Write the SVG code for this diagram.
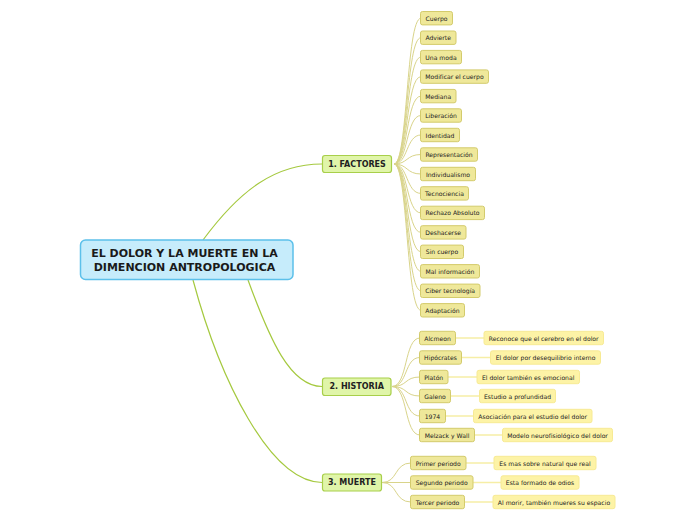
<svg xmlns="http://www.w3.org/2000/svg" width="696" height="520" viewBox="0 0 696 520">
<style>
text{font-family:"DejaVu Sans",Verdana,sans-serif;fill:#222;text-anchor:middle;dominant-baseline:central}
.root rect{fill:#c6ecfb;stroke:#5cc0ea;stroke-width:1.5}
.root text{font-size:11px;font-weight:bold;fill:#1a1a1a}
.br rect{fill:#e0f5a9;stroke:#a8cf4a;stroke-width:1.2}
.br text{font-size:8px;font-weight:bold}
.ch rect{fill:#efe89a;stroke:#d3cb6c;stroke-width:1}
.ch text{font-size:6.1px}
.gc rect{fill:#fdf3a6;stroke:#f7ea94;stroke-width:1}
.gc text{font-size:6.1px}
.main path{fill:none;stroke:#a5c93f;stroke-width:1.2}
.sub path{fill:none;stroke:#d9d48a;stroke-width:1}
.leaf path{fill:none;stroke:#f6eea6;stroke-width:1.5}
</style>
<g id="connectors">
<g class="main">
<path d="M203,240 C240,190 275,164 322,164"/>
<path d="M248,280 C270,340 290,386 322,386.5"/>
<path d="M193,280 C220,380 270,482 322,482.5"/>
</g>
<g class="sub">
<path d="M394,164 C408,164 406,18.2 421,18.2"/>
<path d="M394,164 C408,164 406,37.7 421,37.7"/>
<path d="M394,164 C408,164 406,57.1 421,57.1"/>
<path d="M394,164 C408,164 406,76.6 421,76.6"/>
<path d="M394,164 C408,164 406,96.1 421,96.1"/>
<path d="M394,164 C408,164 406,115.5 421,115.5"/>
<path d="M394,164 C408,164 406,135 421,135"/>
<path d="M394,164 C408,164 406,154.5 421,154.5"/>
<path d="M394,164 C408,164 406,174 421,174"/>
<path d="M394,164 C408,164 406,193.4 421,193.4"/>
<path d="M394,164 C408,164 406,212.9 421,212.9"/>
<path d="M394,164 C408,164 406,232.4 421,232.4"/>
<path d="M394,164 C408,164 406,251.8 421,251.8"/>
<path d="M394,164 C408,164 406,271.3 421,271.3"/>
<path d="M394,164 C408,164 406,290.8 421,290.8"/>
<path d="M394,164 C408,164 406,310.3 421,310.3"/>
<path d="M392,386.5 C408,386.5 404,338 420,338"/>
<path d="M392,386.5 C408,386.5 404,357.5 420,357.5"/>
<path d="M392,386.5 C408,386.5 404,377 420,377"/>
<path d="M392,386.5 C408,386.5 404,396 420,396"/>
<path d="M392,386.5 C408,386.5 404,416 420,416"/>
<path d="M392,386.5 C408,386.5 404,435 420,435"/>
<path d="M382,482.5 C398,482.5 394,463 411,463"/>
<path d="M382,482.5 L411,482.5"/>
<path d="M382,482.5 C398,482.5 394,502 411,502"/>
</g>
<g class="leaf">
<path d="M456,338 H484"/>
<path d="M462,357.5 H490"/>
<path d="M448,377 H477"/>
<path d="M450,396 H479"/>
<path d="M445,416 H473"/>
<path d="M474,435 H502"/>
<path d="M466,463 H494"/>
<path d="M473,482.5 H501"/>
<path d="M464,502 H493"/>
</g>
</g>
<g id="root" class="root"><rect x="80.5" y="240" width="212.5" height="39.5" rx="5"/><text x="184.5" y="253.5">EL DOLOR Y LA MUERTE EN LA</text><text x="184.5" y="267">DIMENCION ANTROPOLOGICA</text></g>
<g id="factores" class="br"><rect x="322.5" y="155.5" width="69" height="17" rx="2.5"/><text x="357" y="164">1. FACTORES</text></g>
<g id="historia" class="br"><rect x="322.5" y="378" width="68.5" height="17.5" rx="2.5"/><text x="356.7" y="386.7">2. HISTORIA</text></g>
<g id="muerte" class="br"><rect x="322.5" y="474" width="59" height="17" rx="2.5"/><text x="352" y="482.5">3. MUERTE</text></g>
<g id="f1" class="ch"><rect x="420.5" y="11.5" width="32" height="13.4" rx="2"/><text x="436.5" y="18.2">Cuerpo</text></g>
<g id="f2" class="ch"><rect x="420.5" y="31" width="35.5" height="13.4" rx="2"/><text x="438.2" y="37.7">Advierte</text></g>
<g id="f3" class="ch"><rect x="420.5" y="50.4" width="41" height="13.4" rx="2"/><text x="441" y="57.1">Una moda</text></g>
<g id="f4" class="ch"><rect x="420.5" y="69.9" width="68" height="13.4" rx="2"/><text x="454.5" y="76.6">Modificar el cuerpo</text></g>
<g id="f5" class="ch"><rect x="420.5" y="89.4" width="35.5" height="13.4" rx="2"/><text x="438.2" y="96.1">Mediana</text></g>
<g id="f6" class="ch"><rect x="420.5" y="108.8" width="41" height="13.4" rx="2"/><text x="441" y="115.5">Liberación</text></g>
<g id="f7" class="ch"><rect x="420.5" y="128.3" width="39" height="13.4" rx="2"/><text x="440" y="135">Identidad</text></g>
<g id="f8" class="ch"><rect x="420.5" y="147.8" width="57" height="13.4" rx="2"/><text x="449" y="154.5">Representación</text></g>
<g id="f9" class="ch"><rect x="420.5" y="167.3" width="55" height="13.4" rx="2"/><text x="448" y="174">Individualismo</text></g>
<g id="f10" class="ch"><rect x="420.5" y="186.7" width="48" height="13.4" rx="2"/><text x="444.5" y="193.4">Tecnociencia</text></g>
<g id="f11" class="ch"><rect x="420.5" y="206.2" width="64" height="13.4" rx="2"/><text x="452.5" y="212.9">Rechazo Absoluto</text></g>
<g id="f12" class="ch"><rect x="420.5" y="225.7" width="45.5" height="13.4" rx="2"/><text x="443.2" y="232.4">Deshacerse</text></g>
<g id="f13" class="ch"><rect x="420.5" y="245.1" width="43" height="13.4" rx="2"/><text x="442" y="251.8">Sin cuerpo</text></g>
<g id="f14" class="ch"><rect x="420.5" y="264.6" width="59" height="13.4" rx="2"/><text x="450" y="271.3">Mal información</text></g>
<g id="f15" class="ch"><rect x="420.5" y="284.1" width="59.5" height="13.4" rx="2"/><text x="450.2" y="290.8">Ciber tecnología</text></g>
<g id="f16" class="ch"><rect x="420.5" y="303.6" width="44" height="13.4" rx="2"/><text x="442.5" y="310.3">Adaptación</text></g>
<g id="h1" class="ch"><rect x="419.5" y="331.3" width="36" height="13.4" rx="2"/><text x="437.5" y="338">Alcmeon</text></g>
<g id="h2" class="ch"><rect x="419.5" y="350.8" width="42" height="13.4" rx="2"/><text x="440.5" y="357.5">Hipócrates</text></g>
<g id="h3" class="ch"><rect x="419.5" y="370.3" width="28.5" height="13.4" rx="2"/><text x="433.7" y="377">Platón</text></g>
<g id="h4" class="ch"><rect x="419.5" y="389.3" width="31" height="13.4" rx="2"/><text x="435" y="396">Galeno</text></g>
<g id="h5" class="ch"><rect x="419.5" y="409.3" width="26" height="13.4" rx="2"/><text x="432.5" y="416">1974</text></g>
<g id="h6" class="ch"><rect x="419.5" y="428.3" width="55" height="13.4" rx="2"/><text x="447" y="435">Melzack y Wall</text></g>
<g id="hg1" class="gc"><rect x="484" y="331.3" width="119.5" height="13.4" rx="2"/><text x="543.7" y="338">Reconoce que el cerebro en el dolor</text></g>
<g id="hg2" class="gc"><rect x="490.5" y="350.8" width="110" height="13.4" rx="2"/><text x="545.5" y="357.5">El dolor por desequilibrio interno</text></g>
<g id="hg3" class="gc"><rect x="477" y="370.3" width="102.5" height="13.4" rx="2"/><text x="528.2" y="377">El dolor también es emocional</text></g>
<g id="hg4" class="gc"><rect x="479.5" y="389.3" width="76" height="13.4" rx="2"/><text x="517.5" y="396">Estudio a profundidad</text></g>
<g id="hg5" class="gc"><rect x="473.5" y="409.3" width="118.5" height="13.4" rx="2"/><text x="532.7" y="416">Asociación para el estudio del dolor</text></g>
<g id="hg6" class="gc"><rect x="502.5" y="428.3" width="110" height="13.4" rx="2"/><text x="557.5" y="435">Modelo neurofisiológico del dolor</text></g>
<g id="m1" class="ch"><rect x="410.5" y="456.3" width="55.5" height="13.4" rx="2"/><text x="438.2" y="463">Primer periodo</text></g>
<g id="m2" class="ch"><rect x="410.5" y="475.8" width="62.5" height="13.4" rx="2"/><text x="441.7" y="482.5">Segundo periodo</text></g>
<g id="m3" class="ch"><rect x="410.5" y="495.3" width="54" height="13.4" rx="2"/><text x="437.5" y="502">Tercer periodo</text></g>
<g id="mg1" class="gc"><rect x="494" y="456.3" width="102" height="13.4" rx="2"/><text x="545" y="463">Es mas sobre natural que real</text></g>
<g id="mg2" class="gc"><rect x="501" y="475.8" width="78" height="13.4" rx="2"/><text x="540" y="482.5">Esta formado de odios</text></g>
<g id="mg3" class="gc"><rect x="493" y="495.3" width="122" height="13.4" rx="2"/><text x="554" y="502">Al morir, también mueres su espacio</text></g>
</svg>
